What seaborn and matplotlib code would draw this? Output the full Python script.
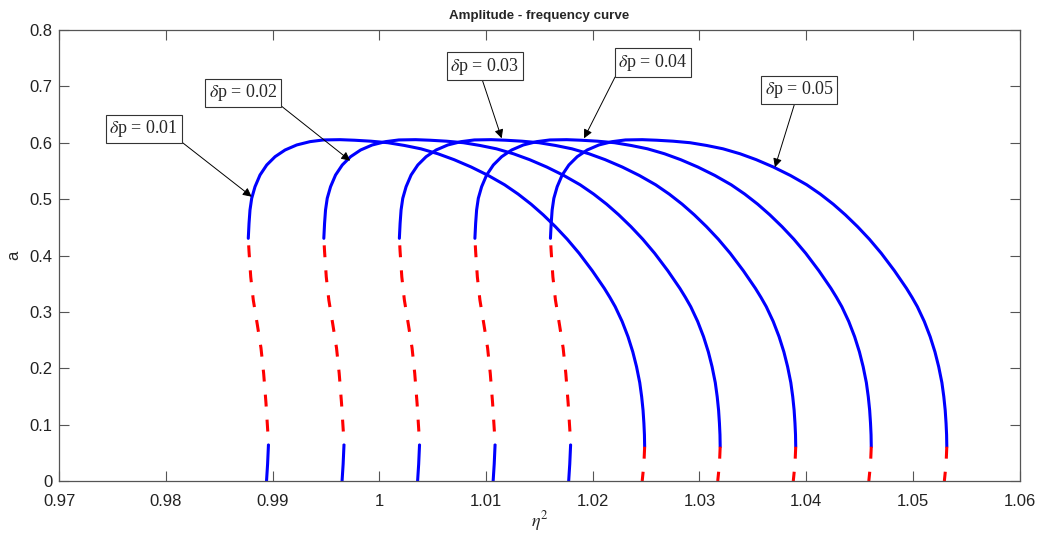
import matplotlib

matplotlib.use("Agg")

import numpy as np
import matplotlib.pyplot as plt
import seaborn as sns
from matplotlib.ticker import FuncFormatter

# base curve (dp = 0.01), upper stable arc: eta^2 vs amplitude a
arc_x = [0.98771, 0.98778, 0.98787, 0.98803, 0.98834, 0.98881, 0.98944, 0.99022,
         0.99116, 0.99225, 0.99350, 0.99474, 0.99631, 0.99767, 0.99920, 1.00079,
         1.00235, 1.00388, 1.00548, 1.00700, 1.00860, 1.01020, 1.01173, 1.01300,
         1.01422, 1.01535, 1.01650, 1.01760, 1.01872, 1.01995, 1.02108, 1.02160,
         1.02210, 1.02275, 1.02330, 1.02375, 1.02410, 1.02440, 1.02458, 1.02471,
         1.02479, 1.02484, 1.02486]
arc_a = [0.4305, 0.4571, 0.4807, 0.5015, 0.5220, 0.5428, 0.5606, 0.5753,
         0.5872, 0.5961, 0.6020, 0.6050, 0.6055, 0.6045, 0.6028, 0.6001,
         0.5952, 0.5893, 0.5805, 0.5700, 0.5570, 0.5420, 0.5255, 0.5090,
         0.4910, 0.4722, 0.4511, 0.4290, 0.4039, 0.3730, 0.3418, 0.3258,
         0.3092, 0.2830, 0.2560, 0.2290, 0.2027, 0.1745, 0.1495, 0.1255,
         0.1024, 0.0820, 0.0608]

# unstable middle branch (red dashed)
mid_x = [0.98771, 0.98778, 0.98794, 0.98818, 0.98856, 0.98890, 0.98915, 0.98937,
         0.98953, 0.98960]
mid_a = [0.4305, 0.407, 0.362, 0.321, 0.277, 0.236, 0.191, 0.138, 0.090, 0.064]

# lower stable branch (blue)
low_x = [0.98960, 0.98952, 0.98942]
low_a = [0.064, 0.030, 0.0]

# right end, unstable (red dashed)
tail_x = [1.02486, 1.02479, 1.02463]
tail_a = [0.0608, 0.030, 0.0]

dp_values = [0.01, 0.02, 0.03, 0.04, 0.05]
dp_shift = [0.0, 0.00708, 0.01416, 0.02124, 0.02832]

# label boxes (centre) and arrow tips
label_x = [0.97792, 0.98724, 1.00987, 1.02564, 1.03934]
label_a = [0.6247, 0.6888, 0.7356, 0.7423, 0.6941]
tip_x = [0.98803, 0.99726, 1.01146, 1.01918, 1.03707]
tip_a = [0.5043, 0.5682, 0.6079, 0.6079, 0.5565]
arrow_from = [(1.0, 0.0), (1.0, 0.0), (0.45, 0.0), (0.0, 0.1), (0.45, 0.0)]

sns.set_theme(style="ticks")
plt.rcParams['font.family'] = ['Liberation Sans', 'DejaVu Sans']
plt.rcParams['mathtext.fontset'] = 'stix'

fig = plt.figure(figsize=(10.39, 5.35), dpi=100)
ax = fig.add_axes([0.0571, 0.1009, 0.9242, 0.843])

lw = 2.2
dash = (3.9, 4.3)
for i, dp in enumerate(dp_values):
    s = dp_shift[i]
    sns.lineplot(x=np.array(arc_x) + s, y=arc_a, sort=False, estimator=None,
                 color='#0000ff', lw=lw, ax=ax)
    sns.lineplot(x=np.array(mid_x) + s, y=mid_a, sort=False, estimator=None,
                 color='#ff0000', lw=lw, linestyle=(5.9, dash), ax=ax)
    sns.lineplot(x=np.array(low_x) + s, y=low_a, sort=False, estimator=None,
                 color='#0000ff', lw=lw, ax=ax)
    sns.lineplot(x=np.array(tail_x) + s, y=tail_a, sort=False, estimator=None,
                 color='#ff0000', lw=lw, linestyle=(0, dash), ax=ax)

for i, dp in enumerate(dp_values):
    ax.annotate(r'$\delta$p = %.2f' % dp, xy=(tip_x[i], tip_a[i]),
                xytext=(label_x[i], label_a[i]), ha='center', va='center',
                fontsize=13, family=['Liberation Serif', 'DejaVu Serif'],
                bbox=dict(boxstyle='square,pad=0.2', fc='white', ec='#333333', lw=0.8),
                arrowprops=dict(arrowstyle='-|>', color='black', lw=0.7,
                                mutation_scale=13, shrinkA=0, shrinkB=0,
                                relpos=arrow_from[i]))

ax.set_xlim(0.97, 1.06)
ax.set_ylim(0, 0.8)
ax.set_xticks(np.arange(0.97, 1.0601, 0.01))
ax.set_yticks(np.arange(0, 0.801, 0.1))
fmt = FuncFormatter(lambda v, p: '%g' % round(v, 4))
ax.xaxis.set_major_formatter(fmt)
ax.yaxis.set_major_formatter(fmt)
ax.tick_params(direction='in', length=7, width=0.8, color='#555555',
               labelsize=12, labelcolor='#222222', top=True, right=True, pad=5)
ax.tick_params(axis='x', pad=9)
for sp in ax.spines.values():
    sp.set_visible(True)
    sp.set_color('#555555')
    sp.set_linewidth(0.9)

ax.set_title('Amplitude - frequency curve', fontsize=9.6, fontweight='bold', pad=8)
ax.set_xlabel(r'$\eta^2$', fontsize=13, labelpad=0)
ax.set_ylabel('a', fontsize=12, labelpad=6)

fig.savefig('out.png', dpi=100)
